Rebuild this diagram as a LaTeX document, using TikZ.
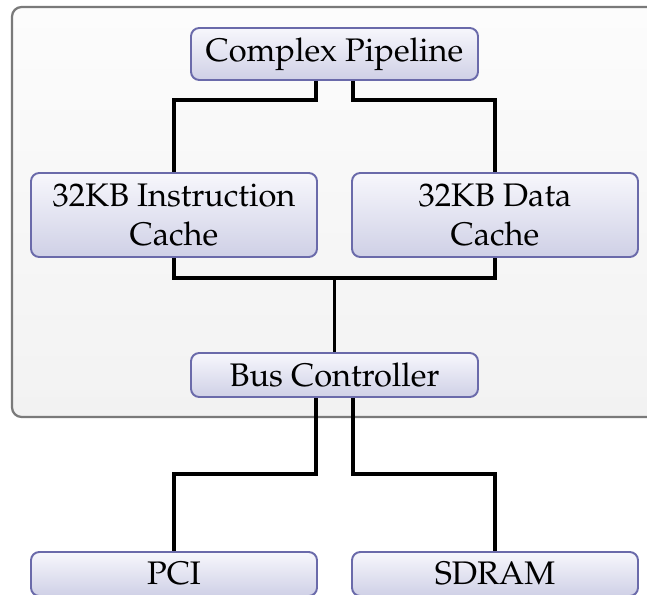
\documentclass[tikz,border=0pt]{standalone}
\usepackage[T1]{fontenc}
\usepackage{mathpazo}
\usetikzlibrary{calc}

\definecolor{boxtop}{HTML}{F7F7FC}
\definecolor{boxbottom}{HTML}{CFD0E6}
\definecolor{boxedge}{HTML}{6A6AAA}
\definecolor{frametop}{HTML}{FCFCFC}
\definecolor{framebottom}{HTML}{F2F2F2}
\definecolor{frameedge}{HTML}{7A7A7A}

\tikzset{
  unit/.style={draw=boxedge, line width=0.6pt, rounded corners=2.6pt,
    top color=boxtop, bottom color=boxbottom, align=center,
    inner sep=0pt, font=\fontsize{10.2}{12}\selectfont},
  wire/.style={draw=black, line width=1pt},
}

\begin{document}
\begin{tikzpicture}[x=0.3125pt, y=-0.3125pt]
  \useasboundingbox (0,0) rectangle (647,594);
  \clip (0,0) rectangle (647,594);

  % processor frame
  \shade[top color=frametop, bottom color=framebottom, rounded corners=3pt]
    (12,7) rectangle (700,417);
  \draw[frameedge, line width=0.7pt, rounded corners=3pt]
    (12,7) rectangle (700,417);

  % units
  \node[unit, minimum width=287*0.3125pt, minimum height=52*0.3125pt]
    (cp) at (334.5,54) {Complex Pipeline};
  \node[unit, minimum width=286*0.3125pt, minimum height=84*0.3125pt]
    (ic) at (174,215) {32KB Instruction\\Cache};
  \node[unit, minimum width=286*0.3125pt, minimum height=84*0.3125pt]
    (dc) at (495,215) {32KB Data\\Cache};
  \node[unit, minimum width=287*0.3125pt, minimum height=44*0.3125pt]
    (bc) at (334.5,375) {Bus Controller};
  \node[unit, minimum width=286*0.3125pt, minimum height=44*0.3125pt]
    (pci) at (174,574) {PCI};
  \node[unit, minimum width=286*0.3125pt, minimum height=44*0.3125pt]
    (sdram) at (495,574) {SDRAM};

  % pipeline to caches
  \draw[wire] ([xshift=-5.8pt]cp.south) -- ++(0,19) -| (ic.north);
  \draw[wire] ([xshift=5.8pt]cp.south) -- ++(0,19) -| (dc.north);

  % caches to bus controller
  \coordinate (join) at ($(ic.south)+(0,20)$);
  \draw[wire] (ic.south) -- (join) -| (dc.south);
  \draw[wire] (bc.north) -- (bc.north |- join);

  % bus controller to devices
  \draw[wire] ([xshift=-5.8pt]bc.south) -- ++(0,76) -| (pci.north);
  \draw[wire] ([xshift=5.8pt]bc.south) -- ++(0,76) -| (sdram.north);
\end{tikzpicture}
\end{document}
